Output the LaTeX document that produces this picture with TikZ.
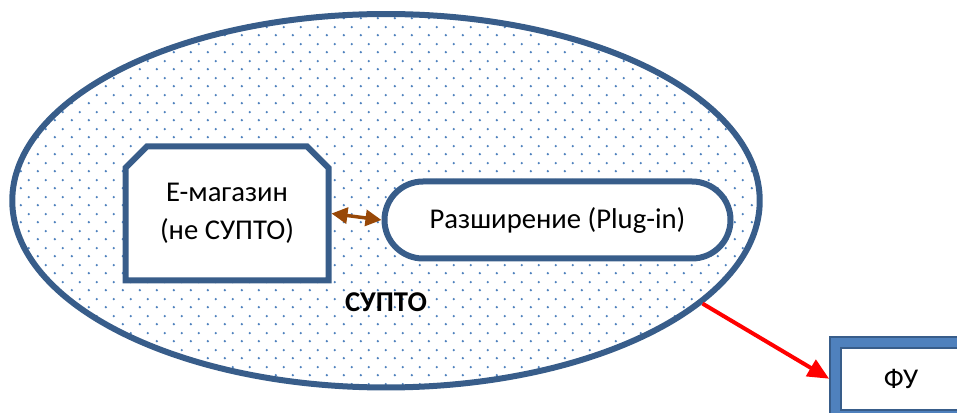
\documentclass[tikz,border=0pt]{standalone}
\usepackage{fontspec}
\setmainfont{Carlito}
\usepackage{tikz}
\usetikzlibrary{shapes.geometric, shapes.misc}
\usetikzlibrary{patterns, arrows.meta}
\definecolor{outlineblue}{HTML}{385D8A}
\definecolor{fillblue}{HTML}{4F81BD}
\definecolor{arrowbrown}{HTML}{984807}
\pgfdeclarepatternformonly{supto dots}{\pgfqpoint{0pt}{0pt}}{\pgfqpoint{12.75pt}{12.75pt}}{\pgfqpoint{12.75pt}{12.75pt}}{%
	\pgfpathcircle{\pgfqpoint{3pt}{3pt}}{1pt}%
	\pgfpathcircle{\pgfqpoint{9.375pt}{9.375pt}}{1pt}%
	\pgfusepath{fill}}

\begin{document}
\begin{tikzpicture}[x=0.75pt, y=-0.75pt,
		font=\fontsize{21.5}{28.5}\selectfont,
		shapeline/.style={draw=outlineblue, line width=4.5pt, inner sep=0pt}]
	\useasboundingbox (0,0) rectangle (957,413);
	
	% Draw the big ellipse
	\node[shapeline, ellipse, minimum width=560.6pt, minimum height=280.1pt,
		pattern=supto dots, pattern color=fillblue] (supto) at (386,200.75) {};
	\node[font=\fontsize{21.5}{28.5}\selectfont\bfseries] (suptolabel) at (386,302) {СУПТО};
	
	% Draw the shop and the plug-in
	\node[shapeline, chamfered rectangle, chamfered rectangle corners={north west, north east},
		chamfered rectangle xsep=8pt, chamfered rectangle ysep=8pt,
		minimum width=152.25pt, minimum height=100.5pt, fill=white, align=center] (emag) at (227,213.5) {E-магазин\\(не СУПТО)};
	\node[shapeline, rounded rectangle, minimum width=259.5pt, minimum height=57.75pt,
		fill=white] (plugin) at (557.5,220) {Разширение (Plug-in)};
	
	% Draw the FU box
	\node[draw=outlineblue, line width=1.5pt, double=fillblue, double distance=6.75pt,
		fill=white, minimum width=98pt, minimum height=54.4pt, outer sep=4.9pt] (fu) at (901,378.75) {ФУ};
	
	% Draw arrows
	\draw[arrowbrown, line width=2.6pt, {Triangle[length=12pt, width=12pt]}-{Triangle[length=12pt, width=12pt]}] (emag.east) -- (plugin.west);
	\draw[red, line width=3pt, -{Triangle[length=16pt, width=14pt]}] (supto.-18.7) -- (fu.west);
	
\end{tikzpicture}
\end{document}
